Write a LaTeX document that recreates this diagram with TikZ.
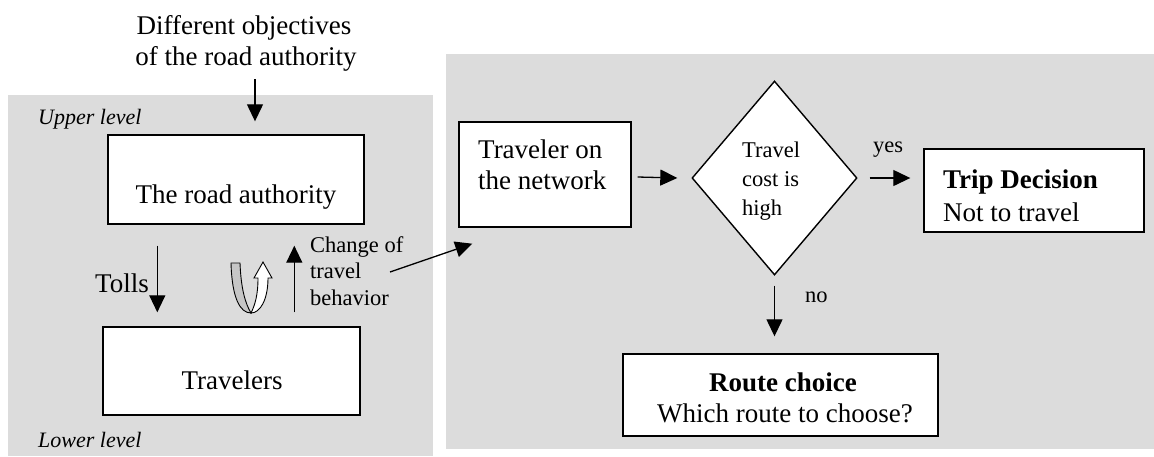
\documentclass[tikz,border=0pt]{standalone}
\usepackage{fontspec}
\setmainfont{Liberation Serif}
\usetikzlibrary{arrows.meta,shapes.geometric}
\definecolor{panelgray}{RGB}{220,220,220}
\tikzset{
  boxnode/.style={draw=black,fill=white,line width=1.4pt,inner sep=0pt},
  bigtxt/.style={font=\fontsize{27}{31}\selectfont,inner sep=0pt},
  boldtxt/.style={font=\fontsize{27}{31}\selectfont\bfseries,inner sep=0pt},
  smalltxt/.style={font=\fontsize{22.5}{26}\selectfont,inner sep=0pt},
  itxt/.style={font=\fontsize{22}{26}\selectfont\itshape,inner sep=0pt},
  arr/.style={line width=1.3pt,-{Triangle[length=17pt,width=16pt]}}
}
\begin{document}
\begin{tikzpicture}[x=1pt,y=1pt]
\useasboundingbox (0,0) rectangle (1154,-456);
% panels
\fill[panelgray] (8,-95) rectangle (433,-456);
\fill[panelgray] (446,-54) rectangle (1154,-449);
% boxes
\node[boxnode,minimum width=256pt,minimum height=89pt] (road) at (236,-179.5) {};
\node[boxnode,minimum width=257pt,minimum height=88pt] (trav) at (231.5,-371) {};
\node[boxnode,minimum width=172pt,minimum height=105pt] (net) at (545,-174.5) {};
\node[boxnode,diamond,minimum width=165pt,minimum height=194pt] (dia) at (774.5,-178) {};
\node[boxnode,minimum width=220pt,minimum height=83pt] (trip) at (1034,-190.5) {};
\node[boxnode,minimum width=315pt,minimum height=82pt] (route) at (780.5,-395) {};
% texts
\node[bigtxt,anchor=base] (obj1) at (244,-34) {Different objectives};
\node[bigtxt,anchor=base] (obj) at (246,-65) {of the road authority};
\node[itxt,anchor=base west] (upper) at (38,-124) {Upper level};
\node[itxt,anchor=base west] (lower) at (38,-447) {Lower level};
\node[bigtxt,anchor=base] (roadtxt) at (236,-203) {The road authority};
\node[bigtxt,anchor=base] (travtxt) at (232,-389) {Travelers};
\node[bigtxt,anchor=base west] (tolls) at (95,-292) {Tolls};
\node[smalltxt,anchor=base west] (chg1) at (310,-252) {Change of};
\node[smalltxt,anchor=base west] (chg2) at (310,-278.5) {travel};
\node[smalltxt,anchor=base west] (chg3) at (310,-305) {behavior};
\node[bigtxt,anchor=base west] (net1) at (478,-158) {Traveler on};
\node[bigtxt,anchor=base west] (net2) at (478,-189) {the network};
\node[smalltxt,anchor=base west] (dia1) at (742,-157) {Travel};
\node[smalltxt,anchor=base west] (dia2) at (742,-186) {cost is};
\node[smalltxt,anchor=base west] (dia3) at (742,-215) {high};
\node[smalltxt,anchor=base west] (yes) at (873,-152) {yes};
\node[smalltxt,anchor=base west] (no) at (805,-302) {no};
\node[boldtxt,anchor=base west] (trip1) at (943,-188) {Trip Decision};
\node[bigtxt,anchor=base west] (trip2) at (943,-221) {Not to travel};
\node[boldtxt,anchor=base] (route1) at (783,-391) {Route choice};
\node[bigtxt,anchor=base] (route2) at (785,-422) {Which route to choose?};
% connectors
\coordinate (chgend) at (390,-272);
\draw[arr] ([xshift=19pt,yshift=55pt]road.north) -- ([xshift=19pt,yshift=13pt]road.north);
\draw[arr] ([xshift=50pt,yshift=-21pt]road.south west) -- ([xshift=55pt,yshift=14pt]trav.north west);
\draw[arr] ([xshift=192pt,yshift=14pt]trav.north west) -- ([xshift=187pt,yshift=-21pt]road.south west);
\draw[arr] (chgend) -- ([xshift=14pt,yshift=-16pt]net.south west);
\draw[arr] ([xshift=6pt,yshift=-2.5pt]net.east) -- ([xshift=-14pt]dia.west);
\draw[arr] ([xshift=12pt]dia.east) -- ([xshift=-13pt]dia.east -| trip.west);
\draw[arr] ([yshift=-10pt]dia.south) -- ([yshift=17pt]dia.south |- route.north);
% U-turn arrow
\draw[line width=0.9pt,fill=gray!45] (231,-263) -- (240,-263)
  .. controls (241,-288) and (245,-303) .. (251,-313)
  .. controls (240,-313) and (232,-298) .. (231,-263) -- cycle;
\draw[line width=0.9pt,fill=white] (251,-313)
  .. controls (260,-313) and (268,-300) .. (268,-278)
  -- (272,-278) -- (263,-262) -- (254,-278) -- (258,-278)
  .. controls (258,-295) and (255,-305) .. (251,-313) -- cycle;
\end{tikzpicture}
\end{document}
